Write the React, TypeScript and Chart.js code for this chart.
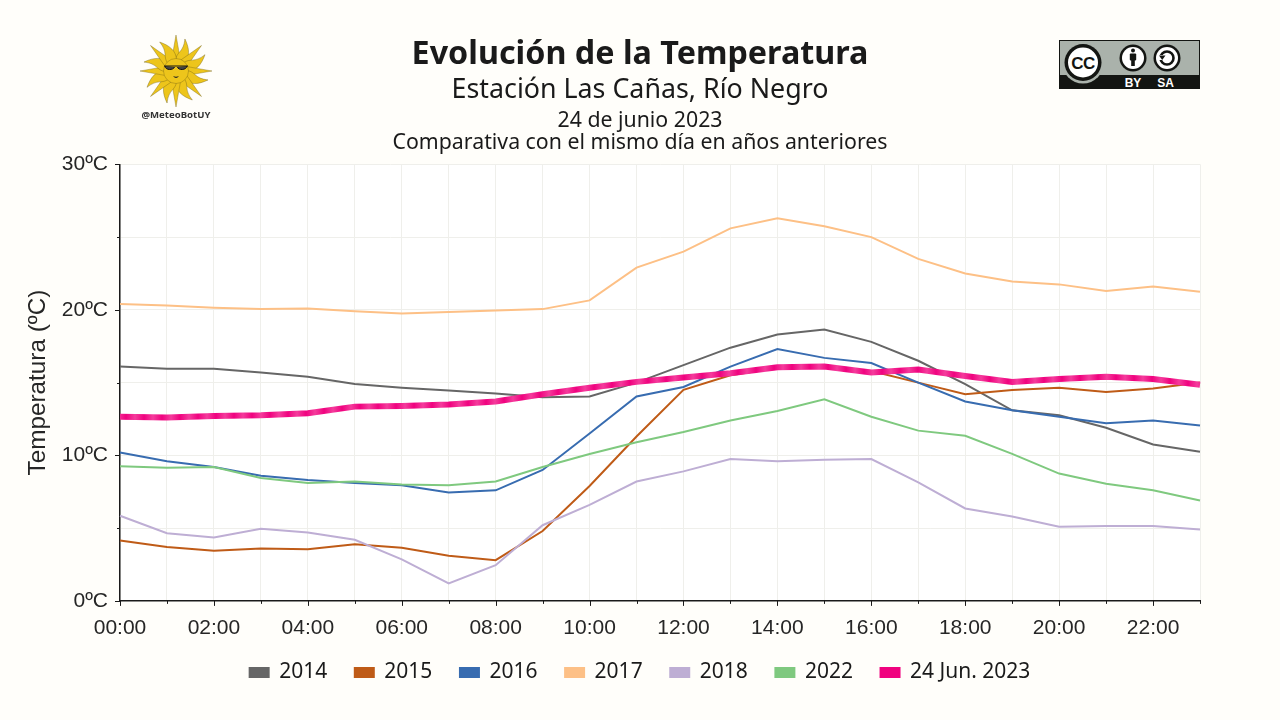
import React, { useEffect, useRef } from "react";
import { Chart, registerables } from "chart.js";

Chart.register(...registerables);

const hours = ["00:00","01:00","02:00","03:00","04:00","05:00","06:00","07:00","08:00","09:00","10:00","11:00","12:00","13:00","14:00","15:00","16:00","17:00","18:00","19:00","20:00","21:00","22:00","23:00"];
const t2014 = [16.1,15.95,15.95,15.7,15.4,14.9,14.65,14.45,14.25,14.0,14.05,15.0,16.2,17.4,18.3,18.65,17.8,16.5,14.9,13.1,12.75,11.9,10.75,10.25];
const t2015 = [4.15,3.7,3.45,3.6,3.55,3.9,3.65,3.1,2.8,4.8,7.9,11.3,14.5,15.5,16.0,16.1,15.8,15.0,14.2,14.5,14.65,14.35,14.6,15.0];
const t2016 = [10.2,9.6,9.2,8.6,8.3,8.1,7.95,7.45,7.6,9.0,11.5,14.05,14.7,16.1,17.3,16.7,16.35,15.0,13.7,13.1,12.65,12.2,12.4,12.05];
const t2017 = [20.4,20.3,20.15,20.05,20.1,19.9,19.75,19.85,19.95,20.05,20.65,22.9,24.0,25.6,26.3,25.75,25.0,23.5,22.5,21.95,21.75,21.3,21.6,21.25];
const t2018 = [5.85,4.65,4.35,4.95,4.7,4.2,2.85,1.2,2.45,5.2,6.6,8.2,8.9,9.75,9.6,9.7,9.75,8.15,6.35,5.8,5.1,5.15,5.15,4.9];
const t2022 = [9.25,9.15,9.2,8.45,8.1,8.2,8.0,7.95,8.2,9.2,10.1,10.9,11.6,12.4,13.05,13.85,12.65,11.7,11.35,10.1,8.75,8.05,7.6,6.9];
const t2023 = [12.65,12.6,12.7,12.75,12.9,13.35,13.4,13.5,13.7,14.2,14.65,15.05,15.35,15.65,16.05,16.1,15.7,15.9,15.45,15.05,15.25,15.4,15.25,14.85];

const seriesNames = ["2014","2015","2016","2017","2018","2022","24 Jun. 2023"];
const seriesValues = [t2014,t2015,t2016,t2017,t2018,t2022,t2023];
const seriesColors = ["#666666","#BF5B17","#386CB0","#FDC086","#BEAED4","#7FC97F","#F0027F"];

const PAGE_BG = "#FFFEFA";
const TEXT = "#1a1a1a";
const LABEL = "#262626";
const AXIS = "#1a1a1a";

function stripedPink(chart: any) {
  const g = chart.ctx.createLinearGradient(0, 0, 1280, 0);
  const period = 9;
  const n = Math.floor(1280 / period);
  for (let k = 0; k <= n; k++) {
    g.addColorStop(Math.min(1, (k * period) / 1280), k % 2 === 0 ? "#F0027F" : "#F43C9C");
  }
  return g;
}

const chromePlugin = {
  id: "chrome",
  beforeDraw(chart: any) {
    const { ctx, chartArea: a } = chart;
    ctx.save();
    ctx.fillStyle = "#ffffff";
    ctx.fillRect(a.left, a.top, a.right - a.left, a.bottom - a.top);
    ctx.restore();
  },
  afterDraw(chart: any) {
    const { ctx, chartArea: a, scales } = chart;
    ctx.save();
    ctx.strokeStyle = AXIS;
    ctx.lineWidth = 1;
    scales.x.ticks.forEach((_: any, i: number) => {
      const x = Math.round(scales.x.getPixelForTick(i)) + 0.5;
      const len = i % 2 === 0 ? 5 : 3;
      ctx.beginPath();
      ctx.moveTo(x, a.bottom);
      ctx.lineTo(x, a.bottom + len);
      ctx.stroke();
    });
    scales.y.ticks.forEach((t: any, i: number) => {
      const y = Math.round(scales.y.getPixelForTick(i)) + 0.5;
      const len = t.value % 10 === 0 ? 5 : 3;
      ctx.beginPath();
      ctx.moveTo(a.left, y);
      ctx.lineTo(a.left - len, y);
      ctx.stroke();
    });
    ctx.fillStyle = TEXT;
    ctx.textAlign = "center";
    ctx.textBaseline = "middle";
    ctx.font = '21.3px "Noto Sans"';
    ctx.fillText("24 de junio 2023", 640, 121);
    ctx.fillText("Comparativa con el mismo día en años anteriores", 640, 143);
    ctx.restore();
  },
};

function Sun() {
  const cx = 36, cy = 36;
  const rays: React.ReactNode[] = [];
  for (let i = 0; i < 16; i++) {
    const deg = (i * 180) / 8;
    const d = i % 2 === 0
      ? "M-4.6 -10 L0 -36 L4.6 -10 Z"
      : "M-4.6 -10 C-7 -18 0 -20 -4 -33 C4 -26 8 -18 4.6 -10 Z";
    rays.push(<path key={i} d={d} transform={`translate(${cx} ${cy}) rotate(${deg})`} fill="#EDC51B" stroke="#6b5a14" strokeWidth={0.35} />);
  }
  return (
    <svg width={72} height={72} viewBox="0 0 72 72" style={{ position: "absolute", left: 140, top: 35 }}>
      {rays}
      <circle cx={cx} cy={cy} r={12.5} fill="#EDC51B" stroke="#6b5a14" strokeWidth={0.35} />
      <path d="M24 31 H48 M25 31 C25 35.5 33.5 35.5 34.5 32 M37.5 32 C38 35.5 46.5 35.5 47 31" stroke="#111" strokeWidth={1} fill="#444" />
      <path d="M33 41 C35 42 37 42 39 41 C37 43.5 35 43.5 33 41 Z" fill="#222" />
    </svg>
  );
}

function CcBadge() {
  return (
    <svg width={141} height={49} viewBox="0 0 141 49" style={{ position: "absolute", left: 1059, top: 40 }}>
      <rect x={0} y={0} width={141} height={49} fill="#131512" />
      <rect x={1} y={1} width={139} height={34} fill="#AAB2AB" />
      <circle cx={24} cy={22.5} r={21} fill="#AAB2AB" />
      <circle cx={24} cy={22.5} r={18.5} fill="#131512" />
      <circle cx={24} cy={22.5} r={15} fill="#ffffff" />
      <text x={24} y={28.5} textAnchor="middle" fontFamily="Liberation Sans" fontWeight={700} fontSize={17} letterSpacing={-0.5} fill="#131512">CC</text>
      <circle cx={74} cy={18} r={13.5} fill="#131512" />
      <circle cx={74} cy={18} r={11} fill="#ffffff" />
      <circle cx={74} cy={10.5} r={2} fill="#131512" />
      <rect x={70.8} y={13.5} width={6.4} height={7} rx={1} fill="#131512" />
      <rect x={72.2} y={19} width={3.6} height={7} fill="#131512" />
      <circle cx={108} cy={18} r={13.5} fill="#131512" />
      <circle cx={108} cy={18} r={11} fill="#ffffff" />
      <circle cx={108} cy={18} r={6.5} fill="none" stroke="#131512" strokeWidth={2.6} />
      <rect x={100} y={15} width={6.5} height={5} fill="#ffffff" />
      <path d="M100 15.5 H106.5 L103.2 20 Z" fill="#131512" />
      <text x={74} y={46.5} textAnchor="middle" fontFamily="Liberation Sans" fontWeight={700} fontSize={12} fill="#fff">BY</text>
      <text x={106.5} y={46.5} textAnchor="middle" fontFamily="Liberation Sans" fontWeight={700} fontSize={12} fill="#fff">SA</text>
    </svg>
  );
}

export default function App() {
  const ref = useRef<HTMLCanvasElement | null>(null);
  useEffect(() => {
    document.body.style.margin = "0";
    document.body.style.background = PAGE_BG;
    const chart = new Chart(ref.current as HTMLCanvasElement, {
      type: "line",
      plugins: [chromePlugin],
      data: {
        labels: hours,
        datasets: seriesNames.map((name, i) => ({
          label: name,
          data: seriesValues[i],
          borderColor: i === 6 ? (c: any) => stripedPink(c.chart) : seriesColors[i],
          backgroundColor: seriesColors[i],
          borderWidth: i === 6 ? 6 : 2,
          pointRadius: 0,
          tension: 0,
          order: 6 - i,
        })),
      },
      options: {
        animation: false,
        responsive: false,
        layout: { padding: { left: 0, right: 0, top: 0, bottom: 27 } },
        plugins: {
          tooltip: { enabled: false },
          title: {
            display: true,
            text: "Evolución de la Temperatura",
            color: TEXT,
            font: { family: "Noto Sans", size: 32.3, weight: "bold", lineHeight: 1.2 },
            padding: { top: 35.6, bottom: 0 },
          },
          subtitle: {
            display: true,
            text: "Estación Las Cañas, Río Negro",
            color: TEXT,
            font: { family: "Noto Sans", size: 26.8, weight: "normal", lineHeight: 1.2 },
            padding: { top: 0, bottom: 57.8 },
          },
          legend: {
            position: "bottom",
            labels: {
              boxWidth: 19,
              boxHeight: 9,
              padding: 27.6,
              color: TEXT,
              font: { family: "Noto Sans", size: 21 },
              generateLabels: (c: any) =>
                Chart.defaults.plugins.legend.labels.generateLabels(c).map((l: any) => ({
                  ...l,
                  strokeStyle: l.fillStyle,
                  lineWidth: 2,
                })),
              sort: (a: any, b: any) => a.datasetIndex - b.datasetIndex,
            },
          },
        },
        scales: {
          x: {
            afterFit: (s: any) => { s.height = 33.5; },
            grid: { color: "#EFEFEB", lineWidth: 1, drawTicks: false },
            border: { color: AXIS, width: 1.5 },
            ticks: {
              autoSkip: false,
              maxRotation: 0,
              padding: 15,
              color: LABEL,
              font: { family: "Liberation Sans", size: 21 },
              callback: (_: any, i: number) => (i % 2 === 0 ? hours[i] : ""),
            },
          },
          y: {
            min: 0,
            max: 30,
            afterFit: (s: any) => { s.width = 120; },
            grid: { color: "#EFEFEB", lineWidth: 1, drawTicks: false },
            border: { color: AXIS, width: 1.5 },
            title: {
              display: true,
              text: "Temperatura (ºC)",
              color: LABEL,
              font: { family: "Liberation Sans", size: 24.3, lineHeight: 1.2 },
              padding: { top: 24, bottom: 0 },
            },
            ticks: {
              stepSize: 5,
              padding: 12,
              color: LABEL,
              font: { family: "Liberation Sans", size: 21 },
              callback: (v: any) => (Number(v) % 10 === 0 ? `${v}ºC` : ""),
            },
          },
          gutter: {
            type: "linear",
            position: "right",
            afterFit: (s: any) => { s.width = 80; },
            grid: { display: false, drawTicks: false },
            border: { display: false },
            ticks: { display: false },
          },
        },
      },
    } as any);
    return () => chart.destroy();
  }, []);
  return (
    <div style={{ position: "absolute", left: 0, top: 0, width: 1280, height: 720, background: PAGE_BG, overflow: "hidden" }}>
      <canvas ref={ref} width={1280} height={720} style={{ display: "block" }} />
      <Sun />
      <div style={{ position: "absolute", left: 116, width: 120, top: 108, textAlign: "center", fontFamily: "Noto Sans", fontWeight: 700, fontSize: 9.6, lineHeight: "14px", color: "#333" }}>@MeteoBotUY</div>
      <CcBadge />
    </div>
  );
}
